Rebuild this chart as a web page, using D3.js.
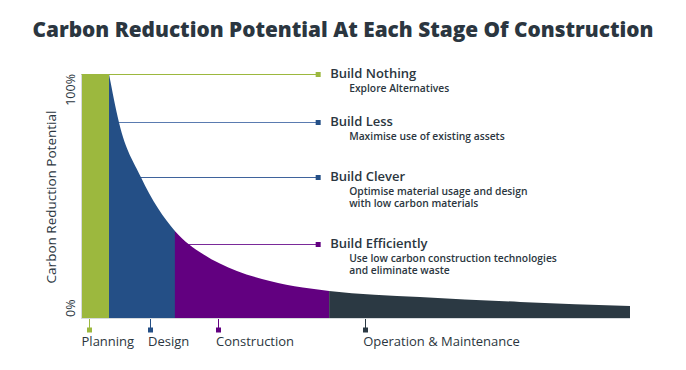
<!DOCTYPE html>
<html>
<head>
<meta charset="utf-8">
<script src="https://cdn.jsdelivr.net/npm/d3@7"></script>
<style>
  html, body { margin: 0; padding: 0; background: #ffffff; }
  svg { display: block; }
  text { font-family: "Open Sans", "Noto Sans", sans-serif; fill: #2b3640; }
</style>
</head>
<body>
<svg id="chart" width="686" height="370"></svg>
<script>
// ---- data ----
const title = "Carbon Reduction Potential At Each Stage Of Construction";
const yAxisTitle = "Carbon Reduction Potential";
const yTickValues = [0, 100];

// curve of remaining reduction potential (x: % of project lifecycle, y: % potential)
const curveX = [5.1, 6.9, 10.9, 17.1, 22.2, 28.4, 34.4, 40.4, 45.2, 61.7, 80.0, 100];
const curveY = [100, 80.3, 57.8, 35.7, 26.2, 19.3, 15.2, 12.5, 11.1, 8.6, 6.6, 4.9];

// stages
const stageNames = ["Planning", "Design", "Construction", "Operation & Maintenance"];
const stageStart = [0, 5.1, 17.1, 45.2];
const stageEnd = [5.1, 17.1, 45.2, 100];
const stageColors = ["#9cb83e", "#244f86", "#620080", "#2b3943"];
const stageTickPos = [1.5, 12.6, 25.0, 51.7];
const stageLabelPos = [0.1, 12.2, 24.6, 51.4];

// annotations
const annoTitles = ["Build Nothing", "Build Less", "Build Clever", "Build Efficiently"];
const annoText = [
  ["Explore Alternatives"],
  ["Maximise use of existing assets"],
  ["Optimise material usage and design", "with low carbon materials"],
  ["Use low carbon construction technologies", "and eliminate waste"]
];
const annoLevel = [100, 80.3, 57.8, 30.3];
const annoFrom = [5.1, 6.5, 10.5, 18.5];
const annoTo = 43.2;
const annoColors = ["#9cb83e", "#5a7bb0", "#3f639c", "#7a2a99"];
const annoMarkerColors = ["#9cb83e", "#244f86", "#244f86", "#620080"];

// ---- drawing ----
const svg = d3.select("#chart");
const x = d3.scaleLinear().domain([0, 100]).range([81, 630]);
const y = d3.scaleLinear().domain([0, 100]).range([318, 74]);

svg.append("text")
  .attr("x", 343).attr("y", 37)
  .attr("text-anchor", "middle")
  .attr("font-size", 21).attr("font-weight", 800)
  .attr("textLength", 621).attr("lengthAdjust", "spacingAndGlyphs")
  .text(title);

// annotation leader lines (drawn first so the areas cover their start)
annoTitles.forEach((t, i) => {
  const ly = Math.round(y(annoLevel[i])) + 0.5;
  svg.append("line")
    .attr("x1", x(annoFrom[i])).attr("x2", x(annoTo))
    .attr("y1", ly).attr("y2", ly)
    .attr("stroke", annoColors[i]).attr("stroke-width", 1.2);
});

const pts = curveX.map((v, i) => ({x: v, y: curveY[i]}));
const area = d3.area().x(d => x(d.x)).y0(y(0)).y1(d => y(d.y)).curve(d3.curveMonotoneX);
const defs = svg.append("defs");

// planning bar
svg.append("rect")
  .attr("x", x(stageStart[0])).attr("y", y(100))
  .attr("width", x(stageEnd[0]) - x(stageStart[0]))
  .attr("height", y(0) - y(100))
  .attr("fill", stageColors[0]);

// other stages: the smooth area under the curve clipped to each stage
for (let i = 1; i < stageNames.length; i++) {
  defs.append("clipPath").attr("id", "clip" + i)
    .append("rect")
    .attr("x", x(stageStart[i])).attr("y", 0)
    .attr("width", x(stageEnd[i]) - x(stageStart[i]))
    .attr("height", 400);
  svg.append("path").attr("d", area(pts))
    .attr("fill", stageColors[i])
    .attr("clip-path", `url(#clip${i})`);
}

// axes
const yAxis = d3.axisLeft(y).tickValues(yTickValues).tickSize(0).tickFormat(d => d + "%");
const gy = svg.append("g").attr("transform", `translate(${x(0)},0)`).call(yAxis);
gy.select(".domain").attr("stroke", "#d6dadd").attr("stroke-width", 1);
gy.selectAll(".tick").attr("transform", "translate(0,0)");
gy.selectAll(".tick text")
  .attr("transform", "rotate(-90)")
  .attr("y", -6).attr("dy", 0)
  .attr("x", d => d === 0 ? -(y(0) - 1) : -y(100))
  .attr("font-size", 12.5).attr("font-family", "Open Sans")
  .attr("fill", "#2b3640")
  .attr("text-anchor", d => d === 0 ? "start" : "end");

svg.append("line")
  .attr("x1", x(0)).attr("x2", x(100))
  .attr("y1", y(0) + 0.5).attr("y2", y(0) + 0.5)
  .attr("stroke", "#d6dadd").attr("stroke-width", 1);

svg.append("text")
  .attr("transform", `translate(56,${(y(0) + y(100)) / 2 + 1}) rotate(-90)`)
  .attr("text-anchor", "middle")
  .attr("font-size", 13.5).attr("font-weight", 500)
  .text(yAxisTitle);

// bottom stage ticks
stageNames.forEach((name, i) => {
  const tx = Math.round(x(stageTickPos[i])) + 0.5;
  svg.append("line")
    .attr("x1", tx).attr("x2", tx)
    .attr("y1", y(0) + 1).attr("y2", y(0) + 11)
    .attr("stroke", stageColors[i]).attr("stroke-width", 1);
  svg.append("rect")
    .attr("x", tx - 2.5).attr("y", y(0) + 9.5)
    .attr("width", 5).attr("height", 5)
    .attr("fill", stageColors[i]);
  svg.append("text")
    .attr("x", x(stageLabelPos[i])).attr("y", y(0) + 28)
    .attr("font-size", 13).attr("font-weight", 500)
    .text(name);
});

// annotation markers and texts
annoTitles.forEach((t, i) => {
  const ly = Math.round(y(annoLevel[i])) + 0.5;
  svg.append("rect")
    .attr("x", x(annoTo) - 2.5).attr("y", ly - 2.5)
    .attr("width", 5).attr("height", 5)
    .attr("fill", annoMarkerColors[i]);
  svg.append("text")
    .attr("x", x(annoTo) + 12).attr("y", ly + 3)
    .attr("font-size", 13).attr("font-weight", 600)
    .text(t);
  annoText[i].forEach((line, j) => {
    svg.append("text")
      .attr("x", x(annoTo) + 31).attr("y", ly + 17 + j * 12.5)
      .attr("font-size", 10.3).attr("font-weight", 600)
      .attr("fill", "#333d47")
      .text(line);
  });
});
</script>
</body>
</html>
